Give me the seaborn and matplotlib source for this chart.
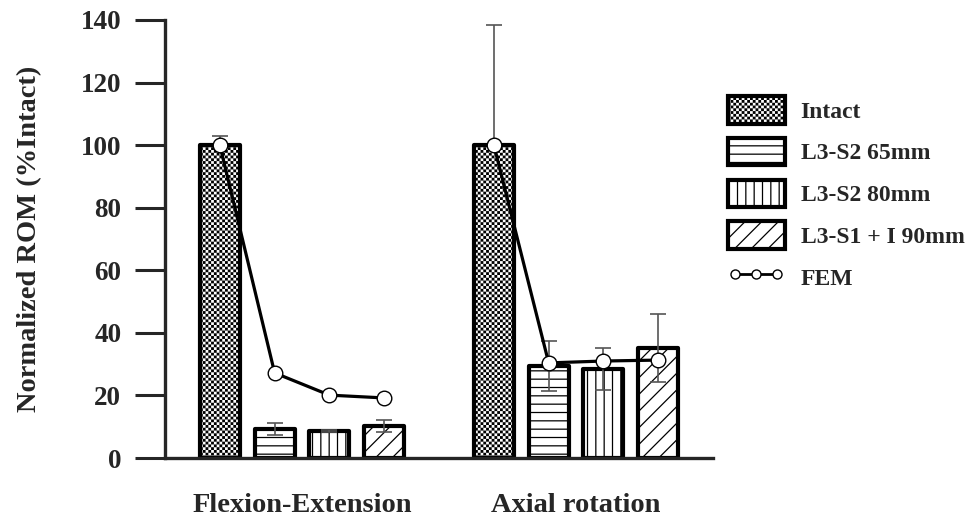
import warnings
import numpy as np
import pandas as pd
import matplotlib
matplotlib.use("Agg")
import matplotlib.pyplot as plt
from matplotlib import hatch as mhatch
from matplotlib.path import Path
from matplotlib.patches import Patch
from matplotlib.lines import Line2D
import seaborn as sns

warnings.filterwarnings("ignore", category=matplotlib.MatplotlibDeprecationWarning)

# ---- data -------------------------------------------------------------
motions = ["Flexion-Extension", "Axial rotation"]
constructs = ["Intact", "L3-S2 65mm", "L3-S2 80mm", "L3-S1 + I 90mm"]

rom_flex = [100.0, 9.3, 8.6, 10.2]
sd_flex = [3.0, 1.9, 0.4, 1.9]
rom_axial = [100.0, 29.4, 28.5, 35.2]
sd_axial = [38.4, 8.0, 6.7, 10.8]

fem_flex = [100.0, 27.2, 20.1, 19.2]
fem_axial = [100.0, 30.4, 31.0, 31.3]

yticks = [0, 20, 40, 60, 80, 100, 120, 140]

# ---- styling ------------------------------------------------------------
hatch_styles = ["cccccc", "--", "||", "//"]
FONT = "Liberation Serif"


class CheckerHatch(mhatch.HatchPatternBase):
    """Filled checkerboard hatch, selected with the letter 'c'."""
    cells = 36

    def __init__(self, hatch, density):
        n = self.cells
        self.num_vertices = (n * n // 2) * 5 if "c" in hatch else 0

    def set_vertices_and_codes(self, vertices, codes):
        n = self.cells
        step = 1.0 / n
        inset = 0.22 * step
        square = np.array([[inset, inset], [step - inset, inset],
                           [step - inset, step - inset], [inset, step - inset],
                           [inset, inset]])
        sq_codes = [Path.MOVETO, Path.LINETO, Path.LINETO, Path.LINETO,
                    Path.CLOSEPOLY]
        k = 0
        for i in range(n):
            for j in range(n):
                if (i + j) % 2 == 0:
                    vertices[k:k + 5] = square + [j * step, i * step]
                    codes[k:k + 5] = sq_codes
                    k += 5


mhatch._hatch_types.append(CheckerHatch)

sns.set_style("ticks")
plt.rcParams["font.family"] = [FONT, "DejaVu Serif"]
plt.rcParams["font.weight"] = "bold"
plt.rcParams["hatch.linewidth"] = 0.9
plt.rcParams["hatch.color"] = "black"

df = pd.DataFrame({
    "motion": np.repeat(motions, len(constructs)),
    "construct": constructs * len(motions),
    "rom": rom_flex + rom_axial,
})

fig = plt.figure(figsize=(9.77, 5.19), dpi=100)
ax = fig.add_axes([0.1689, 0.1175, 0.561, 0.844])

sns.barplot(data=df, x="motion", y="rom", hue="construct", order=motions,
            hue_order=constructs, palette=["white"] * len(constructs),
            edgecolor="black", linewidth=3, gap=0.27, errorbar=None,
            legend=False, ax=ax)

bar_groups = list(ax.containers)
sds = [sd_flex, sd_axial]
fems = [fem_flex, fem_axial]
centers = [[0.0] * len(constructs) for _ in motions]
for i, cont in enumerate(bar_groups):
    for j, bar in enumerate(cont.patches):
        bar.set_hatch(hatch_styles[i])
        bar.set_joinstyle("round")
        cx = bar.get_x() + bar.get_width() / 2
        centers[j][i] = cx
        # the checkered bars are dense enough to cover their lower whisker
        z = 0.5 if i == 0 else 2
        ax.errorbar(cx, bar.get_height(), yerr=sds[j][i], color="#555555",
                    lw=1.2, capsize=6, capthick=1.2, zorder=z)

for j in range(len(motions)):
    ax.plot(centers[j], fems[j], color="black", lw=2.3, marker="o",
            ms=10.5, mfc="white", mec="black", mew=1.0, zorder=4)

ax.set_ylim(0, 140)
ax.set_xlim(-0.5, 1.5)
ax.set_yticks(yticks)
ax.set_xlabel("")
ax.set_ylabel("Normalized ROM (%Intact)", fontsize=20.5, fontweight="bold")
ax.yaxis.set_label_coords(-0.2245, 0.5)
sns.despine(ax=ax)
for side in ("left", "bottom"):
    ax.spines[side].set_linewidth(2.4)
ax.tick_params(axis="y", length=21.5, width=2.2, pad=10, labelsize=19.5)
ax.tick_params(axis="x", length=0, pad=25, labelsize=20.5)
for lab in ax.get_xticklabels() + ax.get_yticklabels():
    lab.set_fontweight("bold")

handles = [Patch(facecolor="white", edgecolor="black", linewidth=3,
                 hatch=hatch_styles[i], label=constructs[i])
           for i in range(len(constructs))]
handles.append(Line2D([], [], color="black", lw=2.0, marker="o", ms=6.5,
                      mfc="white", mec="black", mew=1.0, label="FEM"))
fig.legend(handles=handles, loc="upper left", bbox_to_anchor=(0.745, 0.815),
           bbox_transform=fig.transFigure, frameon=False, borderpad=0,
           borderaxespad=0, numpoints=3, handlelength=2.4, handleheight=1.42,
           labelspacing=0.6, handletextpad=0.68,
           prop={"family": FONT, "weight": "bold", "size": 17})

fig.savefig("out.png", dpi=100)
